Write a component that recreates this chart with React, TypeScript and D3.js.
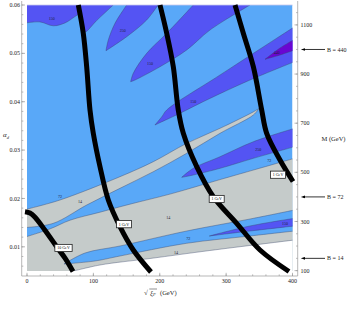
import React from "react";
import * as d3 from "d3";

type Pt = [number, number];

// contour edges, as [sqrt(xi_F) in GeV, alpha]
const topBandEdge: Pt[] = [[-1, 0.0563], [19.6, 0.0565], [39.6, 0.0557], [57.3, 0.0563], [72.3, 0.0576], [79, 0.0581], [84, 0.0548], [87.4, 0.0544], [105, 0.0568], [130, 0.06]];
const tongueALeft: Pt[] = [[119, 0.05055], [122.5, 0.05276], [132.6, 0.05622], [150.2, 0.06]];
const tongueARight: Pt[] = [[119, 0.05055], [150.2, 0.05345], [180.3, 0.0569], [197.4, 0.06]];
const tongueBUpper: Pt[] = [[156.2, 0.04414], [160.1, 0.04588], [180.3, 0.05001], [210.5, 0.05415], [250.5, 0.06]];
const tongueBLower: Pt[] = [[156.2, 0.04414], [162.7, 0.04449], [200.4, 0.04724], [240.6, 0.0507], [275.7, 0.05483], [336, 0.06]];
const bandCUpper: Pt[] = [[192.8, 0.03519], [203.4, 0.03695], [210.5, 0.03829], [290.8, 0.04553], [403, 0.05551]];
const bandCLower: Pt[] = [[192.8, 0.03519], [215.4, 0.03664], [230.5, 0.03761], [270.7, 0.04036], [336, 0.04449], [403, 0.04828]];
const tongueDUpper: Pt[] = [[358.6, 0.04877], [381.2, 0.05111], [403, 0.05291]];
const tongueDLower: Pt[] = [[358.6, 0.04877], [381.2, 0.04966], [403, 0.0507]];
const stripeUpper: Pt[] = [[-1, 0.01776], [49.7, 0.01968], [140.1, 0.0245], [190.3, 0.0276], [240.6, 0.0314], [290.8, 0.0345], [341, 0.0379], [349.5, 0.0386]];
const stripeLower: Pt[] = [[-1, 0.014], [39.6, 0.01486], [89.9, 0.01864], [140.1, 0.0221], [190.3, 0.02553], [240.6, 0.02934], [290.8, 0.03347], [341, 0.03726], [349.5, 0.0386]];
const grayUpper: Pt[] = [[-1, 0.01209], [34.2, 0.01368], [64.8, 0.0155], [110, 0.01716], [155.2, 0.01882], [215.4, 0.0209], [290.8, 0.0239], [403, 0.0283]];
const tongueEUpper: Pt[] = [[233.1, 0.02437], [250.5, 0.02623], [290.8, 0.02863], [341, 0.03173], [403, 0.0345]];
const tongueELower: Pt[] = [[233.1, 0.02437], [250.5, 0.02485], [290.8, 0.02623], [341, 0.0283], [403, 0.0307]];
const blueBandUpper: Pt[] = [[55.7, 0.00645], [87.4, 0.00872], [140.1, 0.01017], [240.6, 0.01327], [336, 0.01575], [403, 0.01761]];
const blueBandLower: Pt[] = [[55.7, 0.00645], [102.4, 0.00707], [140.1, 0.0081], [240.6, 0.01073], [336, 0.01224], [403, 0.01327]];
const tongueFUpper: Pt[] = [[274.7, 0.01224], [336, 0.01431], [403, 0.0159]];
const tongueFLower: Pt[] = [[274.7, 0.01224], [336, 0.01327], [403, 0.01431]];
const whiteEdge: Pt[] = [[64.8, 0.0048], [110, 0.00624], [185.3, 0.00758], [275.7, 0.00924], [403, 0.01141]];

// thick black curves
const curve10: Pt[] = [[-3, 0.01726], [4.5, 0.01699], [12.1, 0.01612], [27.1, 0.01343], [45.2, 0.00992], [57.3, 0.00765], [69.3, 0.0049]];
const curveA: Pt[] = [[77.3, 0.06], [84.8, 0.05415], [89.9, 0.04724], [94.9, 0.03829], [99.9, 0.03347], [110, 0.02657], [122.5, 0.01968], [140.1, 0.01416], [160.1, 0.00934], [186.8, 0.00479]];
const curveB: Pt[] = [[200.4, 0.06], [210.5, 0.05415], [220.4, 0.04724], [227.9, 0.03829], [235.5, 0.03347], [255.7, 0.02657], [280.7, 0.02036], [315.9, 0.01486], [351, 0.00934], [394.7, 0.0049]];
const curveC: Pt[] = [[313.4, 0.06], [325.9, 0.05415], [341, 0.04724], [353.6, 0.03829], [361.1, 0.03347], [381.2, 0.02795], [400.8, 0.02351]];

const boxText = ["10 GeV", "1 GeV", "1 GeV", "1 GeV"];
const boxAt: Pt[] = [[55, 0.00976], [146.1, 0.01468], [285.8, 0.01989], [378.2, 0.02491]];

const contourText = ["150", "250", "150", "150", "440", "72", "14", "14", "250", "72", "72", "150", "14"];
const contourAt: Pt[] = [[37.2, 0.0571], [144.2, 0.05469], [185.3, 0.0478], [250.5, 0.04], [376.2, 0.05014], [49.7, 0.02036], [79.8, 0.01933], [212.9, 0.0161], [348.5, 0.03002], [365, 0.02781], [243, 0.01176], [388.7, 0.01486], [224.5, 0.00878]];

const xTicks = [0, 100, 200, 300, 400];
const alphaTicks = [0.01, 0.02, 0.03, 0.04, 0.05, 0.06];
const mTicks = [100, 300, 500, 700, 900, 1100];
const arrowM = [1000, 400, 150];
const arrowText = ["B = 440", "B = 72", "B = 14"];

const LIGHT = "#59a8f8";
const MID = "#5454f3";
const DARK = "#6a05d2";
const GRAY = "#c5cbca";
const EDGE = "#3a4668";
const AXIS = "#999";
const FONT = "'Liberation Serif', 'DejaVu Serif', serif";

export default function App() {
  const x = d3.scaleLinear().domain([0, 400]).range([27, 292.5]);
  const y = d3.scaleLinear().domain([0.005, 0.06]).range([271, 5]);
  const m = d3.scaleLinear().domain([98.5, 1181]).range([271, 5]);

  const smooth = d3.line<Pt>().x(d => x(d[0])).y(d => y(d[1])).curve(d3.curveCatmullRom.alpha(0.5));
  const area = (edges: Pt[][]) =>
    edges.map((e, i) => (i === 0 ? smooth(e) : "L" + (smooth(e) as string).slice(1))).join("") + "Z";
  const rev = (a: Pt[]) => a.slice().reverse();

  const regions: { d: string; fill: string }[] = [
    { d: area([[[-1, 0.061], [-1, 0.0563]], topBandEdge, [[130, 0.061]]]), fill: MID },
    { d: area([tongueALeft, [[150.2, 0.061], [197.4, 0.061]], rev(tongueARight)]), fill: MID },
    { d: area([tongueBUpper, [[250.5, 0.061], [336, 0.061]], rev(tongueBLower)]), fill: MID },
    { d: area([bandCUpper, rev(bandCLower)]), fill: MID },
    { d: area([tongueDUpper, rev(tongueDLower)]), fill: DARK },
    { d: area([stripeUpper, rev(stripeLower)]), fill: GRAY },
    { d: area([grayUpper, [[403, 0.0283], [403, 0.004], [-1, 0.004]]]), fill: GRAY },
    { d: area([tongueEUpper, rev(tongueELower)]), fill: MID },
    { d: area([blueBandUpper, rev(blueBandLower)]), fill: LIGHT },
    { d: area([tongueFUpper, rev(tongueFLower)]), fill: MID },
    { d: area([whiteEdge, [[403, 0.004], [64.8, 0.004]]]), fill: "#fff" },
  ];

  const curveLine = d3.line<Pt>().x(d => x(d[0])).y(d => y(d[1])).curve(d3.curveCatmullRom.alpha(0.5));

  const alphaMinor = d3.range(0.006, 0.0601, 0.002);
  const xMinor = d3.range(0, 401, 20);
  const mMinor = d3.range(100, 1181, 50);

  return (
    <svg width={348} height={322} style={{ position: "absolute", left: 0, top: 0, fontFamily: FONT }}>
      <defs>
        <clipPath id="plot">
          <rect x={x(0)} y={y(0.06)} width={x(400) - x(0)} height={y(0.005) - y(0.06)} />
        </clipPath>
      </defs>
      <g clipPath="url(#plot)">
        <rect x={x(0)} y={y(0.06)} width={x(400) - x(0)} height={y(0.005) - y(0.06)} fill={LIGHT} />
        {regions.map((r, i) => (
          <path key={i} d={r.d} fill={r.fill} stroke={EDGE} strokeWidth={0.5} strokeOpacity={0.8} />
        ))}
        {contourText.map((t, i) => (
          <text key={i} x={x(contourAt[i][0])} y={y(contourAt[i][1])} dy="0.35em" textAnchor="middle" fontSize={4} fill="#223">
            {t}
          </text>
        ))}
      </g>
      <line x1={x(0)} x2={x(400)} y1={y(0.06)} y2={y(0.06)} stroke="#c8c8ee" strokeWidth={0.8} />

      {[curve10, curveA, curveB, curveC].map((c, i) => (
        <path key={i} d={curveLine(c) as string} fill="none" stroke="#000" strokeWidth={5} />
      ))}
      {boxText.map((t, i) => {
        const w = t.length * 2.3 + 3.5;
        const cx = x(boxAt[i][0]);
        const cy = y(boxAt[i][1]);
        return (
          <g key={i}>
            <rect x={cx - w / 2} y={cy - 3.6} width={w} height={7.2} fill="#fff" stroke="#222" strokeWidth={0.8} />
            <text x={cx} y={cy} dy="0.35em" textAnchor="middle" fontSize={4}>{t}</text>
          </g>
        );
      })}

      {/* axes */}
      <g stroke={AXIS} strokeWidth={0.7}>
        <line x1={21.7} x2={21.7} y1={1} y2={276} />
        <line x1={297.7} x2={297.7} y1={1} y2={276} />
        <line x1={21.7} x2={297.7} y1={276} y2={276} />
        {alphaMinor.map(a => (
          <line key={"am" + a} x1={21.7} x2={23.3} y1={y(a)} y2={y(a)} />
        ))}
        {alphaTicks.map(a => (
          <line key={"a" + a} x1={21.7} x2={25} y1={y(a)} y2={y(a)} />
        ))}
        {xMinor.map(v => (
          <line key={"xm" + v} x1={x(v)} x2={x(v)} y1={276} y2={274.4} />
        ))}
        {xTicks.map(v => (
          <line key={"x" + v} x1={x(v)} x2={x(v)} y1={276} y2={272.8} />
        ))}
        {mMinor.map(v => (
          <line key={"mm" + v} x1={297.7} x2={296.1} y1={m(v)} y2={m(v)} />
        ))}
        {mTicks.map(v => (
          <line key={"m" + v} x1={297.7} x2={294.5} y1={m(v)} y2={m(v)} />
        ))}
      </g>
      <g fontSize={6} fill="#222">
        {alphaTicks.map(a => (
          <text key={a} x={20} y={y(a)} dy="0.35em" textAnchor="end">{a.toFixed(2)}</text>
        ))}
        {xTicks.map(v => (
          <text key={v} x={x(v)} y={282.5} textAnchor="middle">{v}</text>
        ))}
        {mTicks.map(v => (
          <text key={v} x={300.5} y={m(v)} dy="0.35em">{v}</text>
        ))}
      </g>

      {/* axis titles */}
      <text x={3} y={137} fontSize={7} fontStyle="italic" fill="#222">
        α<tspan fontSize={4.5} dy={1.5}>d</tspan>
      </text>
      <g fill="#222" fontSize={7}>
        <text x={144} y={295}>√</text>
        <line x1={149.3} x2={157} y1={289} y2={289} stroke="#222" strokeWidth={0.5} />
        <text x={150} y={295} fontStyle="italic">ξ<tspan fontSize={4.5} dy={1.2}>F</tspan></text>
        <text x={160} y={295} fontSize={6.5}>(GeV)</text>
      </g>
      <text x={321.5} y={140.5} fontSize={6.5} fill="#222">M (GeV)</text>

      {arrowM.map((v, i) => (
        <g key={v}>
          <line x1={325} x2={303} y1={m(v)} y2={m(v)} stroke="#000" strokeWidth={0.8} />
          <path d={`M300.8,${m(v)}L305,${m(v) - 1.3}L305,${m(v) + 1.3}Z`} fill="#000" />
          <text x={327} y={m(v)} dy="0.35em" fontSize={6} fill="#222">{arrowText[i]}</text>
        </g>
      ))}
    </svg>
  );
}
